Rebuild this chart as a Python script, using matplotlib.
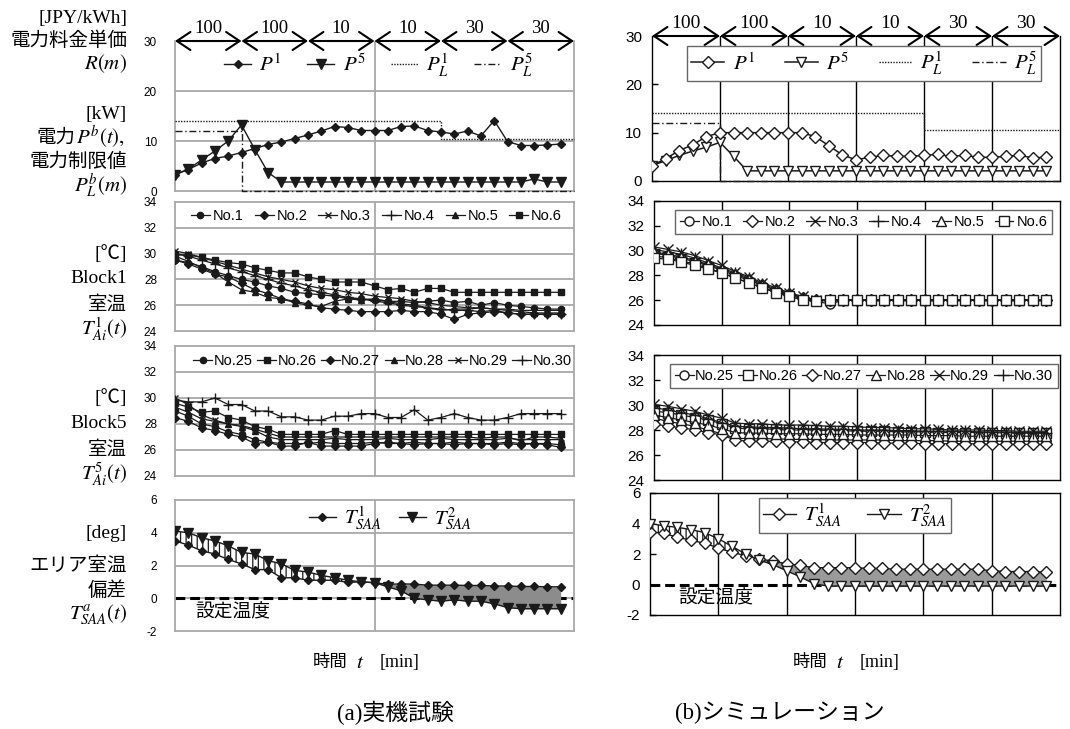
import numpy as np
import matplotlib
matplotlib.use("Agg")
import matplotlib.pyplot as plt
from matplotlib.patches import FancyArrowPatch

plt.rcParams["mathtext.fontset"] = "stix"
plt.rcParams["font.family"] = ["Liberation Sans", "Noto Sans CJK JP"]
plt.rcParams["axes.unicode_minus"] = False
plt.rcParams["hatch.linewidth"] = 0.9

SERIF = ["Liberation Serif", "Noto Sans CJK JP"]
CJK = ["Noto Sans CJK JP", "Liberation Serif"]

W, H = 1070, 729

# ---------------------------------------------------------------- data
# 2-minute samples over six 10-minute pricing periods
minutes = np.arange(0, 60, 2)
period_edges = np.arange(0, 70, 10)
price = [100, 100, 10, 10, 30, 30]          # JPY/kWh per period

# power limits per period [kW]
limit_b1 = [14, 14, 14, 14, 10.5, 10.5]
limit_b5 = [12, 0, 0, 0, 0, 0]

# (a) field experiment: block power [kW]
exp_P1 = [3.3, 4.3, 5.6, 6.5, 7.0, 7.7, 8.5, 9.3, 9.8, 10.5, 11.2, 12.0, 12.9, 12.7, 12.1,
          12.1, 12.1, 12.9, 13.0, 12.1, 11.8, 11.4, 12.0, 11.0, 14.1, 9.9, 9.1, 9.1, 9.2, 9.4]
exp_P5 = [3.2, 4.4, 6.2, 8.0, 10.0, 13.2, 8.3, 3.7, 1.8, 1.8, 1.8, 1.8, 1.8, 1.8, 1.8,
          1.8, 1.8, 1.8, 1.8, 1.8, 1.8, 1.8, 1.8, 1.8, 1.8, 1.8, 1.8, 2.4, 1.8, 1.8]

# (b) simulation: block power [kW]
sim_P1 = [3.2, 4.6, 6.3, 7.5, 9.2, 10.0, 10.0, 10.0, 10.0, 10.0, 10.0, 10.0, 9.2, 7.3, 5.4,
          4.4, 4.9, 5.3, 5.1, 5.1, 5.3, 5.5, 5.1, 5.3, 4.9, 4.9, 5.1, 5.3, 4.8, 4.9]
sim_P5 = [3.2, 4.2, 5.3, 6.2, 7.0, 8.0, 5.1, 2.1, 2.1, 2.1, 2.1, 2.1, 2.1, 2.1, 2.1,
          2.1, 2.1, 2.1, 2.1, 2.1, 2.1, 2.1, 2.1, 2.1, 2.1, 2.1, 2.1, 2.1, 2.1, 2.1]

# (a) Block1 room temperatures [degC]
exp_b1_labels = ["No.1", "No.2", "No.3", "No.4", "No.5", "No.6"]
exp_b1_no1 = [29.5, 29.3, 29.0, 28.6, 28.3, 28.0, 27.8, 27.5, 27.3, 27.0, 26.9, 26.8, 26.7, 26.5, 26.5,
              26.4, 26.3, 26.3, 26.2, 26.3, 26.4, 26.2, 26.3, 26.0, 26.2, 26.0, 25.9, 25.8, 25.7, 25.7]
exp_b1_no2 = [29.5, 29.2, 28.8, 28.4, 28.2, 27.7, 27.2, 26.9, 26.5, 26.3, 26.1, 25.8, 25.7, 25.6, 25.5,
              25.5, 25.5, 25.6, 25.5, 25.5, 25.3, 24.9, 25.3, 25.4, 25.5, 25.4, 25.3, 25.3, 25.3, 25.3]
exp_b1_no3 = [30.2, 30.0, 29.7, 29.4, 29.1, 28.8, 28.5, 28.2, 28.0, 27.8, 27.5, 27.3, 27.2, 27.0, 26.9,
              26.7, 26.6, 26.5, 26.3, 26.2, 26.0, 25.9, 25.8, 25.8, 25.7, 25.7, 25.6, 25.6, 25.6, 25.6]
exp_b1_no4 = [30.0, 29.8, 29.5, 29.2, 28.9, 28.6, 28.3, 28.0, 27.7, 27.5, 27.2, 27.0, 26.8, 26.6, 26.5,
              26.3, 26.2, 26.0, 25.9, 25.8, 25.7, 25.6, 25.6, 25.5, 25.6, 25.4, 25.3, 25.3, 25.3, 25.3]
exp_b1_no5 = [29.8, 29.4, 28.9, 28.5, 27.8, 27.2, 27.0, 26.6, 26.5, 26.2, 26.0, 25.9, 26.3, 26.5, 26.4,
              26.5, 26.3, 26.1, 26.0, 25.8, 25.6, 25.7, 25.7, 25.8, 25.7, 25.6, 25.5, 25.4, 25.4, 25.4]
exp_b1_no6 = [29.9, 29.9, 29.7, 29.5, 29.3, 29.2, 28.9, 28.7, 28.5, 28.5, 28.2, 28.0, 27.8, 27.8, 27.8,
              27.5, 27.2, 27.3, 27.0, 27.3, 27.3, 27.0, 27.0, 27.0, 27.0, 27.0, 27.0, 27.0, 27.0, 27.0]

# (a) Block5 room temperatures [degC]
exp_b5_labels = ["No.25", "No.26", "No.27", "No.28", "No.29", "No.30"]
exp_b5_no25 = [29.0, 28.6, 28.0, 27.8, 27.4, 27.2, 26.8, 26.6, 26.5, 26.5, 26.5, 26.6, 26.5, 26.5, 26.5,
               26.6, 26.5, 26.5, 26.6, 26.5, 26.5, 26.6, 26.5, 26.5, 26.5, 26.6, 26.5, 26.5, 26.5, 26.4]
exp_b5_no26 = [29.6, 29.3, 28.9, 29.0, 28.5, 28.3, 27.8, 27.6, 27.2, 27.2, 27.2, 27.2, 27.5, 27.2, 27.2,
               27.2, 27.2, 27.2, 27.2, 27.2, 27.2, 27.2, 27.2, 27.2, 27.2, 27.2, 27.2, 27.2, 27.2, 27.2]
exp_b5_no27 = [28.5, 28.2, 27.7, 27.5, 27.2, 27.0, 26.5, 26.6, 26.3, 26.3, 26.6, 26.3, 26.3, 26.3, 26.3,
               26.5, 26.6, 26.5, 26.4, 26.5, 26.5, 26.4, 26.5, 26.5, 26.4, 26.5, 26.4, 26.5, 26.4, 26.2]
exp_b5_no28 = [29.3, 28.9, 28.4, 28.2, 28.0, 27.8, 27.5, 27.0, 26.8, 26.8, 26.8, 26.8, 26.9, 26.8, 26.8,
               26.8, 26.9, 26.8, 26.8, 26.8, 26.9, 26.8, 26.8, 26.8, 26.8, 26.9, 26.8, 26.8, 26.8, 26.8]
exp_b5_no29 = [30.0, 29.5, 28.7, 28.3, 28.0, 27.9, 27.6, 27.3, 27.0, 27.0, 27.0, 27.0, 27.0, 27.0, 27.0,
               27.0, 27.0, 27.0, 27.0, 27.0, 27.0, 27.0, 27.0, 26.9, 27.0, 27.0, 26.7, 27.0, 27.0, 26.9]
exp_b5_no30 = [29.85, 29.7, 29.7, 30.0, 29.5, 29.5, 29.0, 29.0, 28.55, 28.55, 28.3, 28.3, 28.6, 28.6, 28.8,
               28.8, 28.5, 28.5, 29.1, 28.3, 28.5, 28.8, 28.5, 28.3, 28.3, 28.5, 28.8, 28.8, 28.8, 28.8]

# (b) Block1 room temperatures [degC]
sim_b1_no1 = [29.6, 29.4, 29.2, 28.9, 28.6, 28.2, 27.8, 27.4, 27.0, 26.7, 26.4, 26.1, 25.9, 25.7, 26.0,
              26.0, 26.0, 26.0, 26.0, 26.0, 26.0, 26.0, 26.0, 26.0, 26.0, 26.0, 26.0, 26.0, 26.0, 26.0]
sim_b1_no2 = [29.8, 29.6, 29.4, 29.1, 28.8, 28.4, 28.0, 27.6, 27.2, 26.8, 26.5, 26.2, 26.0, 26.0, 26.0,
              26.0, 26.0, 26.0, 26.0, 26.0, 26.0, 26.0, 26.0, 26.0, 26.0, 26.0, 26.0, 26.0, 26.0, 26.0]
sim_b1_no3 = [30.3, 30.1, 29.9, 29.6, 29.2, 28.8, 28.3, 27.9, 27.4, 27.0, 26.6, 26.3, 26.0, 26.0, 26.0,
              26.0, 26.0, 26.0, 26.0, 26.0, 26.0, 26.0, 26.0, 26.0, 26.0, 26.0, 26.0, 26.0, 26.0, 26.0]
sim_b1_no4 = [30.1, 29.9, 29.7, 29.4, 29.0, 28.6, 28.2, 27.8, 27.3, 26.9, 26.5, 26.2, 26.0, 26.0, 26.0,
              26.0, 26.0, 26.0, 26.0, 26.0, 26.0, 26.0, 26.0, 26.0, 26.0, 26.0, 26.0, 26.0, 26.0, 26.0]
sim_b1_no5 = [29.9, 29.7, 29.5, 29.2, 28.9, 28.5, 28.1, 27.7, 27.2, 26.8, 26.5, 26.2, 26.0, 26.0, 26.0,
              26.0, 26.0, 26.0, 26.0, 26.0, 26.0, 26.0, 26.0, 26.0, 26.0, 26.0, 26.0, 26.0, 26.0, 26.0]
sim_b1_no6 = [29.4, 29.3, 29.1, 28.8, 28.5, 28.2, 27.8, 27.4, 27.0, 26.6, 26.3, 26.0, 25.9, 26.0, 26.0,
              26.0, 26.0, 26.0, 26.0, 26.0, 26.0, 26.0, 26.0, 26.0, 26.0, 26.0, 26.0, 26.0, 26.0, 26.0]

# (b) Block5 room temperatures [degC]
sim_b5_no25 = [28.95, 28.7, 28.5, 28.3, 28.0, 27.7, 27.35, 27.3, 27.3, 27.3, 27.25, 27.25, 27.25, 27.2, 27.2,
               27.2, 27.2, 27.2, 27.15, 27.15, 27.15, 27.15, 27.1, 27.1, 27.1, 27.1, 27.1, 27.1, 27.1, 27.1]
sim_b5_no26 = [29.5, 29.4, 29.2, 29.0, 28.8, 28.5, 28.15, 28.1, 28.1, 28.05, 28.0, 28.0, 28.0, 27.95, 27.95,
               27.9, 27.9, 27.9, 27.85, 27.85, 27.85, 27.8, 27.8, 27.8, 27.8, 27.8, 27.75, 27.75, 27.75, 27.75]
sim_b5_no27 = [28.5, 28.3, 28.2, 28.0, 27.8, 27.6, 27.2, 27.1, 27.1, 27.1, 27.05, 27.05, 27.0, 27.0, 27.0,
               27.0, 27.0, 26.95, 26.95, 26.95, 26.9, 26.9, 26.9, 26.9, 26.9, 26.85, 26.85, 26.85, 26.85, 26.85]
sim_b5_no28 = [29.2, 29.0, 28.8, 28.6, 28.4, 28.1, 27.8, 27.75, 27.75, 27.7, 27.7, 27.7, 27.65, 27.65, 27.65,
               27.6, 27.6, 27.6, 27.6, 27.6, 27.55, 27.55, 27.55, 27.5, 27.5, 27.5, 27.5, 27.5, 27.5, 27.5]
sim_b5_no29 = [30.05, 29.9, 29.7, 29.5, 29.2, 28.95, 28.55, 28.5, 28.5, 28.4, 28.4, 28.4, 28.35, 28.3, 28.3,
               28.25, 28.2, 28.2, 28.15, 28.1, 28.1, 28.05, 28.0, 28.0, 28.0, 27.95, 27.95, 27.9, 27.9, 27.9]
sim_b5_no30 = [29.8, 29.6, 29.4, 29.2, 28.9, 28.6, 28.3, 28.25, 28.2, 28.2, 28.15, 28.1, 28.1, 28.05, 28.05,
               28.0, 28.0, 28.0, 27.95, 27.95, 27.9, 27.9, 27.9, 27.9, 27.85, 27.85, 27.85, 27.8, 27.8, 27.8]

# area temperature deviation from set point [deg]
exp_T1 = [3.5, 3.25, 2.9, 2.7, 2.37, 2.1, 1.75, 1.75, 1.25, 1.25, 1.1, 1.1, 1.1, 0.97, 1.0,
          0.95, 0.85, 0.88, 0.86, 0.8, 0.8, 0.8, 0.78, 0.78, 0.75, 0.75, 0.72, 0.72, 0.7, 0.7]
exp_T2 = [4.1, 4.0, 3.7, 3.5, 3.2, 2.8, 2.7, 2.3, 2.1, 1.7, 1.6, 1.4, 1.25, 1.1, 1.0,
          0.95, 0.7, 0.45, 0.0, -0.1, -0.18, -0.1, -0.18, -0.18, -0.34, -0.57, -0.64, -0.64, -0.64, -0.64]
sim_T1 = [3.45, 3.35, 3.1, 2.9, 2.7, 2.4, 2.1, 1.9, 1.65, 1.55, 1.35, 1.25, 1.1, 1.1, 1.1,
          1.1, 1.05, 1.05, 1.0, 1.0, 1.0, 1.0, 1.0, 1.0, 1.0, 0.9, 0.85, 0.85, 0.85, 0.8]
sim_T2 = [4.0, 3.85, 3.75, 3.6, 3.4, 3.0, 2.5, 2.0, 1.6, 1.3, 0.9, 0.5, 0.05, -0.1, -0.1,
          -0.1, -0.1, -0.1, -0.1, -0.1, -0.1, -0.1, -0.1, -0.1, -0.1, -0.1, -0.1, -0.1, -0.1, -0.1]

# ---------------------------------------------------------------- drawing
LINE = "#1a1a1a"
GRID = "#a8a8a8"
MARKERS = ["o", "D", "x", "+", "^", "s"]
MARKERS_B5 = ["o", "s", "D", "^", "x", "+"]

fig = plt.figure(figsize=(W / 100, H / 100), dpi=100)


def px_axes(x0, y0, x1, y1):
    return fig.add_axes([x0 / W, 1 - y1 / H, (x1 - x0) / W, (y1 - y0) / H])


def ftext(x, y, s, **kw):
    fig.text(x / W, 1 - y / H, s, **kw)


def style_exp(ax, ylim, yticks):
    ax.set_xlim(0, 60)
    ax.set_ylim(*ylim)
    ax.set_xticks([])
    ax.set_yticks(yticks)
    for s in ax.spines.values():
        s.set_color(GRID)
        s.set_linewidth(1.3)
    ax.tick_params(axis="y", length=0, pad=13, labelsize=8.5)
    for v in yticks[1:-1]:
        ax.axhline(v, color=GRID, lw=1.3, zorder=0)
    ax.axvline(30, color=GRID, lw=1.3, zorder=0)


def style_sim(ax, ylim, yticks):
    ax.set_xlim(0, 60)
    ax.set_ylim(*ylim)
    ax.set_xticks([])
    ax.set_yticks(yticks)
    for s in ax.spines.values():
        s.set_color("black")
        s.set_linewidth(1.0)
    ax.tick_params(axis="y", direction="in", length=4, width=1, pad=7, labelsize=11)
    for x in period_edges[1:-1]:
        ax.axvline(x, color="black", lw=1.0, zorder=1)


def price_arrows(ax, fs):
    ax.spines["top"].set_visible(False)
    for k, p in enumerate(price):
        arr = FancyArrowPatch((period_edges[k], 30), (period_edges[k + 1], 30),
                              arrowstyle="<->,head_length=0.75,head_width=0.5",
                              mutation_scale=13, lw=1.5, color="black",
                              shrinkA=0, shrinkB=0, clip_on=False)
        ax.add_patch(arr)
        ax.annotate(str(p), xy=((period_edges[k] + period_edges[k + 1]) / 2, 30),
                    xytext=(0, 5.5), textcoords="offset points", ha="center",
                    va="baseline", fontsize=fs, family=SERIF, annotation_clip=False)


def step_limit(ax, vals, ls, label, **kw):
    ax.plot(period_edges, np.append(vals, vals[-1]), drawstyle="steps-post",
            ls=ls, lw=1.0, color=LINE, label=label, zorder=3, clip_on=False, **kw)


def temp_lines(ax, series, labels, markers, open_markers):
    for vals, m, lab in zip(series, markers, labels):
        size = {"o": 4.5, "D": 3.8, "x": 5.0, "+": 6.5, "^": 5.0, "s": 4.5}[m]
        if open_markers:
            size += 2.0
        face = "white" if (open_markers and m not in "x+") else LINE
        ax.plot(minutes, vals, color=LINE, lw=0.9, marker=m, ms=size,
                mfc=face, mec=LINE, mew=1.0, label=lab, zorder=3)


# ---- (a) power
ax = px_axes(175, 41, 574, 191)
style_exp(ax, (0, 30), [0, 10, 20, 30])
price_arrows(ax, 13.5)
ax.plot(minutes, exp_P1, color=LINE, lw=1.0, marker="D", ms=4.2, mfc=LINE, mec=LINE, label="$P^1$", zorder=4)
ax.plot(minutes, exp_P5, color=LINE, lw=1.0, marker="v", ms=6.5, mfc=LINE, mec=LINE, label="$P^5$", zorder=4)
step_limit(ax, limit_b1, (0, (1, 1)), "$P_L^1$")
step_limit(ax, limit_b5, (0, (5, 2, 1, 2)), "$P_L^5$")
ax.legend(ncol=4, frameon=False, loc="center", bbox_to_anchor=(0.51, 0.84), fontsize=15,
          handlelength=1.3, handletextpad=0.4, columnspacing=1.2, borderaxespad=0)

# ---- (b) power
ax = px_axes(652, 36, 1060, 181)
style_sim(ax, (0, 30), [0, 10, 20, 30])
price_arrows(ax, 14)
ax.plot(minutes, sim_P5, color=LINE, lw=1.1, marker="v", ms=7.5, mfc="white", mec=LINE, label="$P^5$", zorder=4)
ax.plot(minutes, sim_P1, color=LINE, lw=1.1, marker="D", ms=6.5, mfc="white", mec=LINE, label="$P^1$", zorder=5)
step_limit(ax, limit_b1, (0, (1, 1)), "$P_L^1$")
step_limit(ax, limit_b5, (0, (5, 2, 1, 2)), "$P_L^5$")
h, l = ax.get_legend_handles_labels()
order = [1, 0, 2, 3]
ax.legend([h[i] for i in order], [l[i] for i in order], ncol=4, loc="center",
          bbox_to_anchor=(0.52, 0.81), fontsize=15, handlelength=1.6, handletextpad=0.4,
          columnspacing=1.4, fancybox=False, edgecolor="#666666", framealpha=1,
          borderpad=0.2, borderaxespad=0)

# ---- (a) Block1
ax = px_axes(175, 202, 574, 331)
style_exp(ax, (24, 34), [24, 26, 28, 30, 32, 34])
temp_lines(ax, [exp_b1_no1, exp_b1_no2, exp_b1_no3, exp_b1_no4, exp_b1_no5, exp_b1_no6],
           exp_b1_labels, MARKERS, False)
ax.legend(ncol=6, frameon=False, loc="center", bbox_to_anchor=(0.505, 0.89), fontsize=10.5,
          handlelength=1.3, handletextpad=0.2, columnspacing=0.75, borderaxespad=0)

# ---- (b) Block1
ax = px_axes(654, 201, 1060, 325)
style_sim(ax, (24, 34), [24, 26, 28, 30, 32, 34])
temp_lines(ax, [sim_b1_no1, sim_b1_no2, sim_b1_no3, sim_b1_no4, sim_b1_no5, sim_b1_no6],
           exp_b1_labels, MARKERS, True)
ax.legend(ncol=6, loc="center", bbox_to_anchor=(0.516, 0.83), fontsize=10.5,
          handlelength=1.3, handletextpad=0.2, columnspacing=0.7, fancybox=False,
          edgecolor="#666666", framealpha=1, borderpad=0.35, borderaxespad=0)

# ---- (a) Block5
ax = px_axes(175, 346, 574, 476)
style_exp(ax, (24, 34), [24, 26, 28, 30, 32, 34])
temp_lines(ax, [exp_b5_no25, exp_b5_no26, exp_b5_no27, exp_b5_no28, exp_b5_no29, exp_b5_no30],
           exp_b5_labels, MARKERS_B5, False)
ax.legend(ncol=6, frameon=False, loc="center", bbox_to_anchor=(0.52, 0.885), fontsize=10.5,
          handlelength=1.3, handletextpad=0.1, columnspacing=0.3, borderaxespad=0)

# ---- (b) Block5
ax = px_axes(654, 355, 1060, 480)
style_sim(ax, (24, 34), [24, 26, 28, 30, 32, 34])
temp_lines(ax, [sim_b5_no25, sim_b5_no26, sim_b5_no27, sim_b5_no28, sim_b5_no29, sim_b5_no30],
           exp_b5_labels, MARKERS_B5, True)
ax.legend(ncol=6, loc="center", bbox_to_anchor=(0.517, 0.83), fontsize=10.5,
          handlelength=1.3, handletextpad=0.1, columnspacing=0.3, fancybox=False,
          edgecolor="#666666", framealpha=1, borderpad=0.35, borderaxespad=0)


# ---- area temperature deviation
def deviation(ax, t1, t2, open_markers, gray):
    t1 = np.asarray(t1)
    t2 = np.asarray(t2)
    ax.axhline(0, color="black", lw=2.2, ls=(0, (3.2, 1.6)), zorder=1.5)
    ax.fill_between(minutes, t1, t2, where=t2 >= t1, interpolate=True, facecolor="white",
                    edgecolor=LINE, hatch="|||", lw=0, zorder=2)
    ax.fill_between(minutes, t1, t2, where=t1 > t2, interpolate=True, color=gray, lw=0, zorder=2)
    face = "white" if open_markers else LINE
    ax.plot(minutes, t1, color=LINE, lw=1.0, marker="D", ms=6.0 if open_markers else 4.2,
            mfc=face, mec=LINE, label="$T_{SAA}^1$", zorder=4)
    ax.plot(minutes, t2, color=LINE, lw=1.0, marker="v", ms=7.0 if open_markers else 6.5,
            mfc=face, mec=LINE, label="$T_{SAA}^2$", zorder=4)


ax = px_axes(175, 500, 574, 631)
style_exp(ax, (-2, 6), [-2, 0, 2, 4, 6])
deviation(ax, exp_T1, exp_T2, False, "#8c8c8c")
ax.legend(ncol=2, frameon=False, loc="center", bbox_to_anchor=(0.54, 0.86), fontsize=15,
          handlelength=1.3, handletextpad=0.4, columnspacing=0.8, borderaxespad=0)
ftext(233, 612, "設定温度", ha="center", va="center", fontsize=13.5, family=CJK)

ax = px_axes(650, 493, 1060, 615)
style_sim(ax, (-2, 6), [-2, 0, 2, 4, 6])
deviation(ax, sim_T1, sim_T2, True, "#9a9a9a")
ax.legend(ncol=2, loc="center", bbox_to_anchor=(0.5, 0.816), fontsize=15,
          handlelength=1.6, handletextpad=0.4, columnspacing=1.2, fancybox=False,
          edgecolor="#666666", framealpha=1, borderpad=0.2, borderaxespad=0)
ftext(716, 598, "設定温度", ha="center", va="center", fontsize=13.5, family=CJK)

# ---- row titles
LX = 127
for y, s in [(18, "[JPY/kWh]"), (41, "電力料金単価"), (114, "[kW]"), (162, "電力制限値"),
             (254, "[℃]"), (279, "Block1"), (305, "室温"),
             (398, "[℃]"), (424, "Block5"), (450, "室温"),
             (533, "[deg]"), (566, "エリア室温"), (591, "偏差")]:
    ftext(LX, y, s, ha="right", va="center", fontsize=14, family=SERIF)
for y, s in [(64, "$R(m)$"), (186, "$P_L^b(m)$"), (329, "$T_{Ai}^1(t)$"),
             (474, "$T_{Ai}^5(t)$"), (615, "$T_{SAA}^a(t)$")]:
    ftext(LX, y, s, ha="right", va="center", fontsize=15)
ftext(76, 137, "電力", ha="right", va="center", fontsize=14, family=CJK)
ftext(76, 137, "$P^b(t),$", ha="left", va="center", fontsize=15)

# ---- time axis captions
for cx in (377, 857):
    ftext(cx - 30, 662, "時間", ha="right", va="center", fontsize=12.5, family=CJK)
    ftext(cx - 17, 662, "$t$", ha="center", va="center", fontsize=15)
    ftext(cx + 3, 662, "[min]", ha="left", va="center", fontsize=13, family=SERIF)

ftext(395, 713, "(a)実機試験", ha="center", va="center", fontsize=16.5, family=SERIF)
ftext(780, 713, "(b)シミュレーション", ha="center", va="center", fontsize=16.5, family=SERIF)

fig.savefig("out.png", dpi=100, facecolor="white")
